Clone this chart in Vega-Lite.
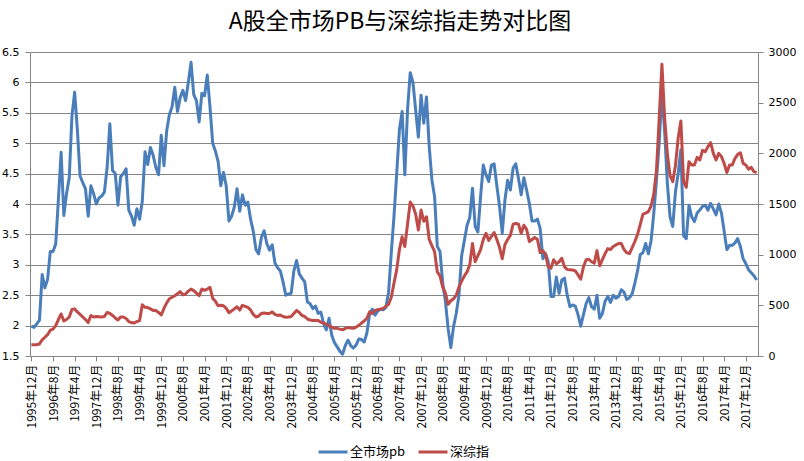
{
  "$schema": "https://vega.github.io/schema/vega-lite/v6.json",
  "autosize": "none",
  "width": 728,
  "height": 304,
  "padding": {"left": 30, "top": 52, "right": 46, "bottom": 105},
  "background": "white",
  "title": {"text": "A股全市场PB与深综指走势对比图", "fontSize": 23, "font": "Noto Sans CJK SC", "fontWeight": "normal", "color": "#000000", "anchor": "middle", "offset": 12, "dx": 6},
  "config": {"view": {"stroke": null}},
  "data": {"values": [
{"m":"1995年12月","pb":1.99,"sz":112},
{"m":"1996年1月","pb":1.97,"sz":112},
{"m":"1996年2月","pb":2.03,"sz":112},
{"m":"1996年3月","pb":2.09,"sz":118},
{"m":"1996年4月","pb":2.84,"sz":160},
{"m":"1996年5月","pb":2.62,"sz":185},
{"m":"1996年6月","pb":2.76,"sz":210},
{"m":"1996年7月","pb":3.22,"sz":255},
{"m":"1996年8月","pb":3.22,"sz":265},
{"m":"1996年9月","pb":3.34,"sz":300},
{"m":"1996年10月","pb":4.08,"sz":360},
{"m":"1996年11月","pb":4.85,"sz":415},
{"m":"1996年12月","pb":3.81,"sz":345},
{"m":"1997年1月","pb":4.17,"sz":360},
{"m":"1997年2月","pb":4.43,"sz":385},
{"m":"1997年3月","pb":5.45,"sz":460},
{"m":"1997年4月","pb":5.84,"sz":465},
{"m":"1997年5月","pb":5.22,"sz":435},
{"m":"1997年6月","pb":4.46,"sz":410},
{"m":"1997年7月","pb":4.35,"sz":385},
{"m":"1997年8月","pb":4.25,"sz":360},
{"m":"1997年9月","pb":3.8,"sz":330},
{"m":"1997年10月","pb":4.3,"sz":400},
{"m":"1997年11月","pb":4.17,"sz":385},
{"m":"1997年12月","pb":4.0,"sz":390},
{"m":"1998年1月","pb":4.1,"sz":388},
{"m":"1998年2月","pb":4.13,"sz":385},
{"m":"1998年3月","pb":4.2,"sz":390},
{"m":"1998年4月","pb":4.6,"sz":430},
{"m":"1998年5月","pb":5.32,"sz":420},
{"m":"1998年6月","pb":4.55,"sz":400},
{"m":"1998年7月","pb":4.5,"sz":375},
{"m":"1998年8月","pb":3.98,"sz":355},
{"m":"1998年9月","pb":4.45,"sz":385},
{"m":"1998年10月","pb":4.5,"sz":385},
{"m":"1998年11月","pb":4.58,"sz":370},
{"m":"1998年12月","pb":3.9,"sz":340},
{"m":"1999年1月","pb":3.8,"sz":330},
{"m":"1999年2月","pb":3.65,"sz":325},
{"m":"1999年3月","pb":3.92,"sz":340},
{"m":"1999年4月","pb":3.75,"sz":350},
{"m":"1999年5月","pb":4.05,"sz":505},
{"m":"1999年6月","pb":4.86,"sz":480},
{"m":"1999年7月","pb":4.65,"sz":478},
{"m":"1999年8月","pb":4.93,"sz":465},
{"m":"1999年9月","pb":4.8,"sz":450},
{"m":"1999年10月","pb":4.6,"sz":448},
{"m":"1999年11月","pb":4.48,"sz":430},
{"m":"1999年12月","pb":5.13,"sz":405},
{"m":"2000年1月","pb":4.63,"sz":470},
{"m":"2000年2月","pb":5.2,"sz":525},
{"m":"2000年3月","pb":5.47,"sz":565},
{"m":"2000年4月","pb":5.6,"sz":580},
{"m":"2000年5月","pb":5.92,"sz":595},
{"m":"2000年6月","pb":5.52,"sz":615},
{"m":"2000年7月","pb":5.75,"sz":635},
{"m":"2000年8月","pb":5.87,"sz":605},
{"m":"2000年9月","pb":5.7,"sz":612},
{"m":"2000年10月","pb":6.0,"sz":640},
{"m":"2000年11月","pb":6.33,"sz":660},
{"m":"2000年12月","pb":5.8,"sz":645},
{"m":"2001年1月","pb":5.7,"sz":620},
{"m":"2001年2月","pb":5.35,"sz":595},
{"m":"2001年3月","pb":5.82,"sz":660},
{"m":"2001年4月","pb":5.78,"sz":648},
{"m":"2001年5月","pb":6.12,"sz":660},
{"m":"2001年6月","pb":5.6,"sz":678},
{"m":"2001年7月","pb":5.0,"sz":570},
{"m":"2001年8月","pb":4.87,"sz":540},
{"m":"2001年9月","pb":4.7,"sz":495},
{"m":"2001年10月","pb":4.3,"sz":500},
{"m":"2001年11月","pb":4.52,"sz":495},
{"m":"2001年12月","pb":4.3,"sz":470},
{"m":"2002年1月","pb":3.72,"sz":428},
{"m":"2002年2月","pb":3.8,"sz":445},
{"m":"2002年3月","pb":3.95,"sz":465},
{"m":"2002年4月","pb":4.25,"sz":486},
{"m":"2002年5月","pb":3.88,"sz":453},
{"m":"2002年6月","pb":4.15,"sz":500},
{"m":"2002年7月","pb":3.98,"sz":490},
{"m":"2002年8月","pb":4.03,"sz":480},
{"m":"2002年9月","pb":3.75,"sz":455},
{"m":"2002年10月","pb":3.55,"sz":410},
{"m":"2002年11月","pb":3.25,"sz":385},
{"m":"2002年12月","pb":3.18,"sz":395},
{"m":"2003年1月","pb":3.45,"sz":420},
{"m":"2003年2月","pb":3.56,"sz":425},
{"m":"2003年3月","pb":3.35,"sz":420},
{"m":"2003年4月","pb":3.24,"sz":420},
{"m":"2003年5月","pb":3.33,"sz":435},
{"m":"2003年6月","pb":3.03,"sz":410},
{"m":"2003年7月","pb":2.95,"sz":400},
{"m":"2003年8月","pb":2.9,"sz":404},
{"m":"2003年9月","pb":2.72,"sz":390},
{"m":"2003年10月","pb":2.5,"sz":382},
{"m":"2003年11月","pb":2.52,"sz":385},
{"m":"2003年12月","pb":2.53,"sz":390},
{"m":"2004年1月","pb":2.9,"sz":420},
{"m":"2004年2月","pb":3.07,"sz":450},
{"m":"2004年3月","pb":2.85,"sz":430},
{"m":"2004年4月","pb":2.78,"sz":400},
{"m":"2004年5月","pb":2.72,"sz":390},
{"m":"2004年6月","pb":2.39,"sz":365},
{"m":"2004年7月","pb":2.36,"sz":355},
{"m":"2004年8月","pb":2.28,"sz":350},
{"m":"2004年9月","pb":2.32,"sz":350},
{"m":"2004年10月","pb":2.2,"sz":350},
{"m":"2004年11月","pb":2.22,"sz":332},
{"m":"2004年12月","pb":2.03,"sz":325},
{"m":"2005年1月","pb":1.93,"sz":315},
{"m":"2005年2月","pb":2.12,"sz":298},
{"m":"2005年3月","pb":1.84,"sz":285},
{"m":"2005年4月","pb":1.72,"sz":273},
{"m":"2005年5月","pb":1.65,"sz":273},
{"m":"2005年6月","pb":1.58,"sz":265},
{"m":"2005年7月","pb":1.53,"sz":258},
{"m":"2005年8月","pb":1.67,"sz":273},
{"m":"2005年9月","pb":1.76,"sz":280},
{"m":"2005年10月","pb":1.67,"sz":276},
{"m":"2005年11月","pb":1.63,"sz":273},
{"m":"2005年12月","pb":1.68,"sz":285},
{"m":"2006年1月","pb":1.78,"sz":303},
{"m":"2006年2月","pb":1.77,"sz":325},
{"m":"2006年3月","pb":1.73,"sz":345},
{"m":"2006年4月","pb":1.88,"sz":372},
{"m":"2006年5月","pb":2.2,"sz":437},
{"m":"2006年6月","pb":2.27,"sz":420},
{"m":"2006年7月","pb":2.17,"sz":450},
{"m":"2006年8月","pb":2.24,"sz":458},
{"m":"2006年9月","pb":2.27,"sz":462},
{"m":"2006年10月","pb":2.26,"sz":470},
{"m":"2006年11月","pb":2.3,"sz":490},
{"m":"2006年12月","pb":2.55,"sz":510},
{"m":"2007年1月","pb":3.2,"sz":580},
{"m":"2007年2月","pb":3.8,"sz":720},
{"m":"2007年3月","pb":4.5,"sz":850},
{"m":"2007年4月","pb":5.22,"sz":1050},
{"m":"2007年5月","pb":5.52,"sz":1176},
{"m":"2007年6月","pb":4.48,"sz":1080},
{"m":"2007年7月","pb":5.55,"sz":1300},
{"m":"2007年8月","pb":6.16,"sz":1520},
{"m":"2007年9月","pb":6.0,"sz":1480},
{"m":"2007年10月","pb":5.55,"sz":1400},
{"m":"2007年11月","pb":5.1,"sz":1243},
{"m":"2007年12月","pb":5.79,"sz":1440},
{"m":"2008年1月","pb":5.33,"sz":1330},
{"m":"2008年2月","pb":5.76,"sz":1374},
{"m":"2008年3月","pb":4.95,"sz":1150},
{"m":"2008年4月","pb":4.4,"sz":1090},
{"m":"2008年5月","pb":4.12,"sz":1030},
{"m":"2008年6月","pb":3.3,"sz":830},
{"m":"2008年7月","pb":3.22,"sz":790},
{"m":"2008年8月","pb":2.7,"sz":680},
{"m":"2008年9月","pb":2.4,"sz":620},
{"m":"2008年10月","pb":1.95,"sz":510},
{"m":"2008年11月","pb":1.64,"sz":545},
{"m":"2008年12月","pb":1.98,"sz":565},
{"m":"2009年1月","pb":2.2,"sz":600},
{"m":"2009年2月","pb":2.5,"sz":680},
{"m":"2009年3月","pb":3.15,"sz":740},
{"m":"2009年4月","pb":3.4,"sz":790},
{"m":"2009年5月","pb":3.65,"sz":830},
{"m":"2009年6月","pb":3.78,"sz":900},
{"m":"2009年7月","pb":4.26,"sz":1110},
{"m":"2009年8月","pb":3.63,"sz":930},
{"m":"2009年9月","pb":3.54,"sz":990},
{"m":"2009年10月","pb":4.12,"sz":1050},
{"m":"2009年11月","pb":4.64,"sz":1150},
{"m":"2009年12月","pb":4.48,"sz":1211},
{"m":"2010年1月","pb":4.37,"sz":1140},
{"m":"2010年2月","pb":4.64,"sz":1180},
{"m":"2010年3月","pb":4.66,"sz":1218},
{"m":"2010年4月","pb":4.3,"sz":1150},
{"m":"2010年5月","pb":3.96,"sz":1070},
{"m":"2010年6月","pb":3.52,"sz":960},
{"m":"2010年7月","pb":4.07,"sz":1100},
{"m":"2010年8月","pb":4.39,"sz":1150},
{"m":"2010年9月","pb":4.23,"sz":1190},
{"m":"2010年10月","pb":4.59,"sz":1300},
{"m":"2010年11月","pb":4.66,"sz":1309},
{"m":"2010年12月","pb":4.42,"sz":1300},
{"m":"2011年1月","pb":4.15,"sz":1211},
{"m":"2011年2月","pb":4.43,"sz":1290},
{"m":"2011年3月","pb":4.23,"sz":1250},
{"m":"2011年4月","pb":4.01,"sz":1130},
{"m":"2011年5月","pb":3.72,"sz":1150},
{"m":"2011年6月","pb":3.72,"sz":1170},
{"m":"2011年7月","pb":3.75,"sz":1150},
{"m":"2011年8月","pb":3.6,"sz":1020},
{"m":"2011年9月","pb":3.1,"sz":1040},
{"m":"2011年10月","pb":3.18,"sz":1000},
{"m":"2011年11月","pb":3.05,"sz":880},
{"m":"2011年12月","pb":2.48,"sz":866},
{"m":"2012年1月","pb":2.48,"sz":950},
{"m":"2012年2月","pb":2.8,"sz":910},
{"m":"2012年3月","pb":2.53,"sz":930},
{"m":"2012年4月","pb":2.75,"sz":965},
{"m":"2012年5月","pb":2.78,"sz":880},
{"m":"2012年6月","pb":2.5,"sz":855},
{"m":"2012年7月","pb":2.31,"sz":850},
{"m":"2012年8月","pb":2.34,"sz":849},
{"m":"2012年9月","pb":2.32,"sz":840},
{"m":"2012年10月","pb":2.18,"sz":800},
{"m":"2012年11月","pb":1.99,"sz":757},
{"m":"2012年12月","pb":2.18,"sz":880},
{"m":"2013年1月","pb":2.36,"sz":950},
{"m":"2013年2月","pb":2.46,"sz":955},
{"m":"2013年3月","pb":2.31,"sz":930},
{"m":"2013年4月","pb":2.27,"sz":916},
{"m":"2013年5月","pb":2.5,"sz":1040},
{"m":"2013年6月","pb":2.12,"sz":890},
{"m":"2013年7月","pb":2.2,"sz":950},
{"m":"2013年8月","pb":2.4,"sz":1010},
{"m":"2013年9月","pb":2.48,"sz":1060},
{"m":"2013年10月","pb":2.38,"sz":1050},
{"m":"2013年11月","pb":2.5,"sz":1080},
{"m":"2013年12月","pb":2.45,"sz":1096},
{"m":"2014年1月","pb":2.48,"sz":1110},
{"m":"2014年2月","pb":2.59,"sz":1110},
{"m":"2014年3月","pb":2.55,"sz":1050},
{"m":"2014年4月","pb":2.43,"sz":1020},
{"m":"2014年5月","pb":2.46,"sz":1010},
{"m":"2014年6月","pb":2.52,"sz":1070},
{"m":"2014年7月","pb":2.7,"sz":1130},
{"m":"2014年8月","pb":2.9,"sz":1200},
{"m":"2014年9月","pb":3.17,"sz":1300},
{"m":"2014年10月","pb":3.2,"sz":1400},
{"m":"2014年11月","pb":3.35,"sz":1410},
{"m":"2014年12月","pb":3.18,"sz":1425},
{"m":"2015年1月","pb":3.4,"sz":1480},
{"m":"2015年2月","pb":3.85,"sz":1600},
{"m":"2015年3月","pb":4.4,"sz":1840},
{"m":"2015年4月","pb":5.0,"sz":2350},
{"m":"2015年5月","pb":5.85,"sz":2880},
{"m":"2015年6月","pb":5.2,"sz":2350},
{"m":"2015年7月","pb":4.34,"sz":2000},
{"m":"2015年8月","pb":3.79,"sz":1780},
{"m":"2015年9月","pb":3.63,"sz":1720},
{"m":"2015年10月","pb":4.2,"sz":1880},
{"m":"2015年11月","pb":4.5,"sz":2150},
{"m":"2015年12月","pb":4.89,"sz":2320},
{"m":"2016年1月","pb":3.48,"sz":1720},
{"m":"2016年2月","pb":3.43,"sz":1665},
{"m":"2016年3月","pb":3.98,"sz":1918},
{"m":"2016年4月","pb":3.79,"sz":1885},
{"m":"2016年5月","pb":3.71,"sz":1885},
{"m":"2016年6月","pb":3.85,"sz":1960},
{"m":"2016年7月","pb":3.9,"sz":1934},
{"m":"2016年8月","pb":3.96,"sz":2030},
{"m":"2016年9月","pb":3.98,"sz":2016},
{"m":"2016年10月","pb":3.9,"sz":2066},
{"m":"2016年11月","pb":4.01,"sz":2105},
{"m":"2016年12月","pb":3.92,"sz":2000},
{"m":"2017年1月","pb":3.82,"sz":1934},
{"m":"2017年2月","pb":4.0,"sz":2000},
{"m":"2017年3月","pb":3.85,"sz":1967},
{"m":"2017年4月","pb":3.55,"sz":1900},
{"m":"2017年5月","pb":3.25,"sz":1810},
{"m":"2017年6月","pb":3.32,"sz":1885},
{"m":"2017年7月","pb":3.32,"sz":1885},
{"m":"2017年8月","pb":3.36,"sz":1950},
{"m":"2017年9月","pb":3.43,"sz":1990},
{"m":"2017年10月","pb":3.3,"sz":2006},
{"m":"2017年11月","pb":3.1,"sz":1901},
{"m":"2017年12月","pb":3.02,"sz":1885},
{"m":"2018年1月","pb":2.92,"sz":1843},
{"m":"2018年2月","pb":2.87,"sz":1862},
{"m":"2018年3月","pb":2.82,"sz":1820},
{"m":"2018年4月","pb":2.75,"sz":1810}
  ]},
  "encoding": {
    "x": {
      "field": "m", "type": "ordinal", "sort": null,
      "scale": {"type": "point", "padding": 0.5},
      "axis": {
        "title": null,
        "values": ["1995年12月","1996年8月","1997年4月","1997年12月","1998年8月","1999年4月","1999年12月","2000年8月","2001年4月","2001年12月","2002年8月","2003年4月","2003年12月","2004年8月","2005年4月","2005年12月","2006年8月","2007年4月","2007年12月","2008年8月","2009年4月","2009年12月","2010年8月","2011年4月","2011年12月","2012年8月","2013年4月","2013年12月","2014年8月","2015年4月","2015年12月","2016年8月","2017年4月","2017年12月"],
        "labelAngle": -90, "labelFont": "Noto Sans CJK SC", "labelFontSize": 12, "labelColor": "#000000",
        "labelPadding": 3, "tickSize": 5, "tickColor": "#868686", "domainColor": "#868686", "grid": false, "labelOverlap": false
      }
    }
  },
  "layer": [
    {
      "mark": {"type": "line", "strokeWidth": 3, "strokeJoin": "round"},
      "encoding": {
        "y": {"field": "pb", "type": "quantitative",
          "scale": {"domain": [1.5, 6.5], "zero": false, "nice": false},
          "axis": {"title": null, "orient": "left", "values": [1.5,2,2.5,3,3.5,4,4.5,5,5.5,6,6.5], "format": "~g",
            "labelFont": "DejaVu Sans", "labelFontSize": 11, "labelColor": "#000000", "labelPadding": 6,
            "tickSize": 5, "tickColor": "#868686", "domainColor": "#868686", "grid": true, "gridColor": "#868686", "gridWidth": 1}},
        "color": {"datum": "全市场pb", "type": "nominal",
          "scale": {"domain": ["全市场pb", "深综指"], "range": ["#4A7EBB", "#BE4B48"]},
          "legend": {"title": null, "orient": "none", "legendX": 287, "legendY": 384, "direction": "horizontal",
            "symbolType": "stroke", "symbolSize": 841, "symbolStrokeWidth": 3,
            "labelFont": "Noto Sans CJK SC", "labelFontSize": 13, "labelColor": "#000000", "labelOffset": 1, "columnPadding": 6}}
      }
    },
    {
      "mark": {"type": "line", "strokeWidth": 3, "strokeJoin": "round"},
      "encoding": {
        "y": {"field": "sz", "type": "quantitative",
          "scale": {"domain": [0, 3000], "nice": false},
          "axis": {"title": null, "orient": "right", "values": [0,500,1000,1500,2000,2500,3000], "format": "d",
            "labelFont": "DejaVu Sans", "labelFontSize": 11, "labelColor": "#000000", "labelPadding": 5,
            "tickSize": 5, "tickColor": "#868686", "domainColor": "#868686", "grid": false}},
        "color": {"datum": "深综指", "type": "nominal"}
      }
    }
  ],
  "resolve": {"scale": {"y": "independent"}}
}
